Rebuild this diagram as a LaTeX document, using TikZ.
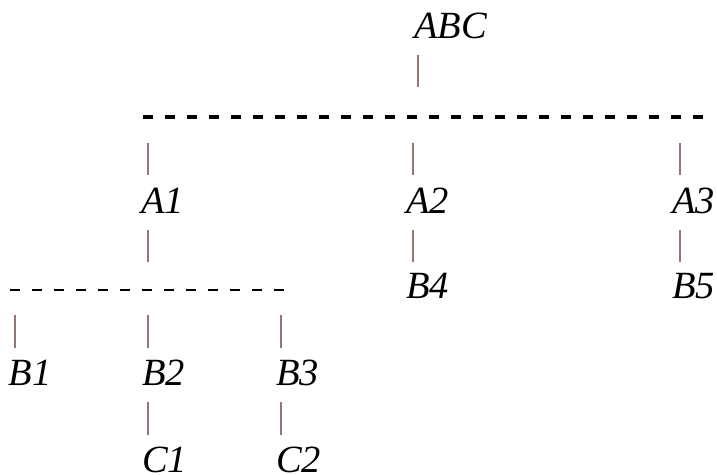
\documentclass[tikz,border=0pt]{standalone}
\usepackage{fontspec}
\setmainfont{Liberation Serif}
\begin{document}
\begin{tikzpicture}[x=1pt,y=-1pt,
  lbl/.style={anchor=base west,inner sep=0pt,outer sep=0pt,font=\fontsize{38.5}{46}\selectfont\itshape},
  stub/.style={draw={rgb,255:red,150;green,118;blue,112},line width=1.1pt},
  bigdash/.style={draw=black,line width=4pt,dash pattern=on 10pt off 12pt},
  smalldash/.style={draw=black,line width=2.4pt,dash pattern=on 10pt off 12pt}]
\useasboundingbox (0,0) rectangle (717,474);
% labels
\node[lbl] (ABC) at (414,38) {ABC};
\node[lbl] (A1) at (141,213) {A1};
\node[lbl] (A2) at (406,213) {A2};
\node[lbl] (A3) at (672,213) {A3};
\node[lbl] (B4) at (406,298) {B4};
\node[lbl] (B5) at (672,298) {B5};
\node[lbl] (B1) at (9,385) {B1};
\node[lbl] (B2) at (142,385) {B2};
\node[lbl] (B3) at (276,385) {B3};
\node[lbl] (C1) at (142,472) {C1};
\node[lbl] (C2) at (276,472) {C2};
% bars
\coordinate (topL) at (143,117);
\coordinate (topR) at (703,117);
\coordinate (lowL) at (10,290);
\coordinate (lowR) at (285,290);
\draw[bigdash] (topL) -- (topR);
\draw[smalldash] (lowL) -- (lowR);
% stubs
\coordinate (s0a) at (418,55);  \coordinate (s0b) at (418,87);
\coordinate (s1a) at (148,143); \coordinate (s1b) at (148,175);
\coordinate (s2a) at (413,143); \coordinate (s2b) at (413,175);
\coordinate (s3a) at (680,143); \coordinate (s3b) at (680,175);
\coordinate (s4a) at (148,230); \coordinate (s4b) at (148,262);
\coordinate (s5a) at (413,230); \coordinate (s5b) at (413,262);
\coordinate (s6a) at (680,230); \coordinate (s6b) at (680,262);
\coordinate (s7a) at (15,315);  \coordinate (s7b) at (15,348);
\coordinate (s8a) at (148,315); \coordinate (s8b) at (148,348);
\coordinate (s9a) at (281,315); \coordinate (s9b) at (281,348);
\coordinate (s10a) at (148,402); \coordinate (s10b) at (148,435);
\coordinate (s11a) at (281,402); \coordinate (s11b) at (281,435);
\foreach \i in {0,...,11} {\draw[stub] (s\i a) -- (s\i b);}
\end{tikzpicture}
\end{document}
